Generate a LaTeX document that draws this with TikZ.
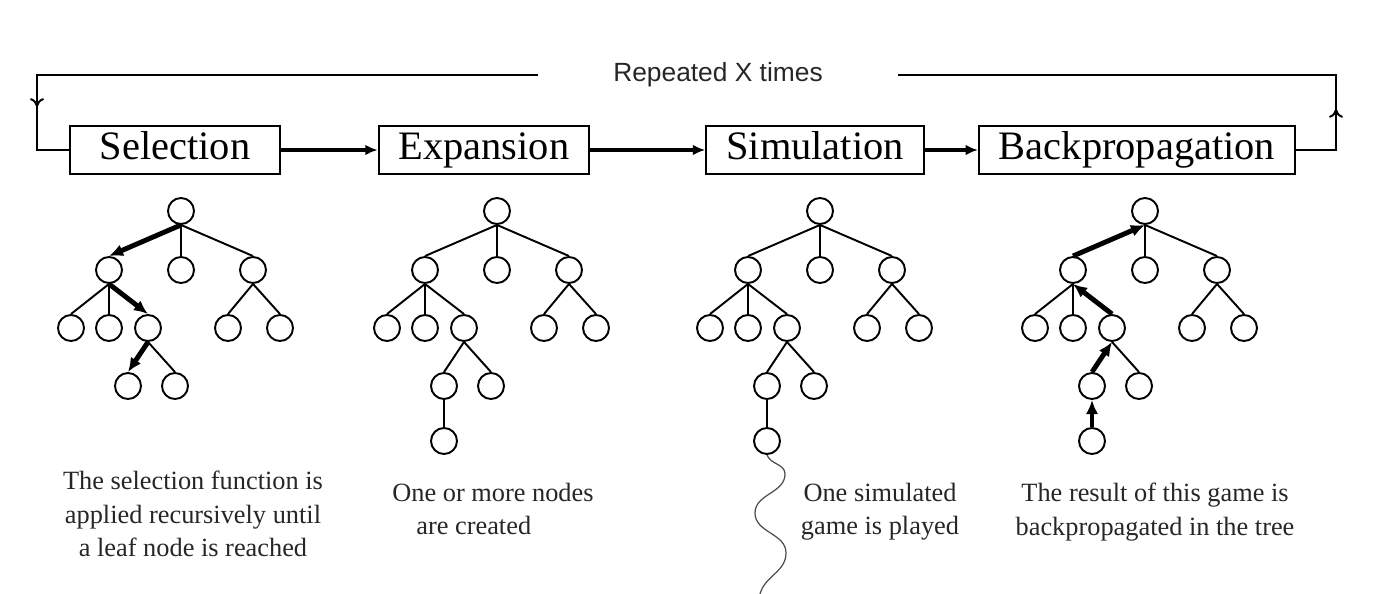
\documentclass[tikz,border=0pt]{standalone}
\usepackage{fontspec}
\setmainfont{Liberation Serif}
\setsansfont{Liberation Sans}
\usetikzlibrary{positioning, arrows.meta, decorations.markings}

\begin{document}
\begin{tikzpicture}[x=0.02cm, y=-0.02cm,
    phase/.style={draw, line width=1.2pt, inner xsep=0.4cm, minimum width=4.2cm, minimum height=0.96cm, text height=16pt, text depth=5pt, font=\fontsize{23}{26}\selectfont},
    flow/.style={line width=2.2pt, -{Latex[length=7pt,width=6pt]}},
    vert/.style={circle, draw, line width=1.1pt, minimum size=0.52cm, inner sep=0pt},
    edge/.style={line width=1.1pt},
    down/.style={line width=2.8pt, -{Latex[length=8pt,width=7pt]}},
    up/.style={line width=2.8pt, {Latex[length=8pt,width=7pt]}-},
    loopline/.style={line width=1.1pt},
    midarrow/.style={postaction={decorate}, decoration={markings, mark=at position #1 with {\arrow{To[length=5pt,width=8pt]}}}},
    wave/.style={line width=0.7pt, black!70},
    caption/.style={align=center, font=\fontsize{15}{19}\selectfont, text=black!85}]
      \useasboundingbox (0,0) rectangle (1395,594);

      % Phases
      \node[phase] (sel) at (175,150) {Selection};
      \node[phase] (exp) at (484,150) {Expansion};
      \node[phase] (sim) at (815,150) {Simulation};
      \node[phase] (bp) at (1137,150) {Backpropagation};
      \draw[flow] (sel) -- (exp);
      \draw[flow] (exp) -- (sim);
      \draw[flow] (sim) -- (bp);

      % Loop back
      \node[font=\sffamily\fontsize{15}{18}\selectfont, text=black!85, inner xsep=1.5cm] (rep) at (718,75) {Repeated X times};
      \coordinate (tl) at (37,75);
      \coordinate (tr) at (1336,75);
      \draw[loopline, midarrow=1.62cm] (bp.east) -| (tr) -- (rep.east);
      \draw[loopline, midarrow=-1.5cm] (rep.west) -- (tl) |- (sel.west);

      % Trees
      \foreach \t/\ox/\sty in {sel/181/down, exp/497/edge, sim/820/edge, bp/1145/up} {
        \node[vert] (\t-r) at (\ox,211) {};
        \node[vert] (\t-1a) at (\ox-72,270) {};
        \node[vert] (\t-1b) at (\ox,270) {};
        \node[vert] (\t-1c) at (\ox+72,270) {};
        \node[vert] (\t-2a) at (\ox-110,328) {};
        \node[vert] (\t-2b) at (\ox-72,328) {};
        \node[vert] (\t-2c) at (\ox-33,328) {};
        \node[vert] (\t-2d) at (\ox+47,328) {};
        \node[vert] (\t-2e) at (\ox+99,328) {};
        \node[vert] (\t-3a) at (\ox-53,386) {};
        \node[vert] (\t-3b) at (\ox-6,386) {};
        \foreach \p/\c in {r/1b, r/1c, 1a/2a, 1a/2b, 1c/2d, 1c/2e, 2c/3b}
          \draw[edge] (\t-\p.south) -- (\t-\c.north);
        \foreach \p/\c in {r/1a, 1a/2c, 2c/3a}
          \draw[\sty] (\t-\p.south) -- (\t-\c.north);
      }
      \foreach \t/\ox/\sty in {exp/497/edge, sim/820/edge, bp/1145/up} {
        \node[vert] (\t-4) at (\ox-53,441) {};
        \draw[\sty] (\t-3a.south) -- (\t-4.north);
      }

      % Simulated game
      \coordinate (w1) at (785,474);
      \coordinate (w2) at (755,513);
      \coordinate (w3) at (786,553);
      \coordinate (simend) at (760,594);
      \draw[wave] (sim-4.south) to[out=-70,in=90] (w1) to[out=-90,in=90] (w2)
        to[out=-90,in=90] (w3) to[out=-90,in=75] (simend);

      % Captions
      \node[caption] (selcap) at (193,514) {The selection function is\\applied recursively until\\a leaf node is reached};
      \node[caption, align=left, anchor=west, inner sep=0pt] (expcap) at (392,509) {One or more nodes\\\hspace*{0.48cm}are created};
      \node[caption] (simcap) at (880,512) {One simulated\\game is played};
      \node[caption] (bpcap) at (1155,512) {The result of this game is\\backpropagated in the tree};
\end{tikzpicture}
\end{document}
